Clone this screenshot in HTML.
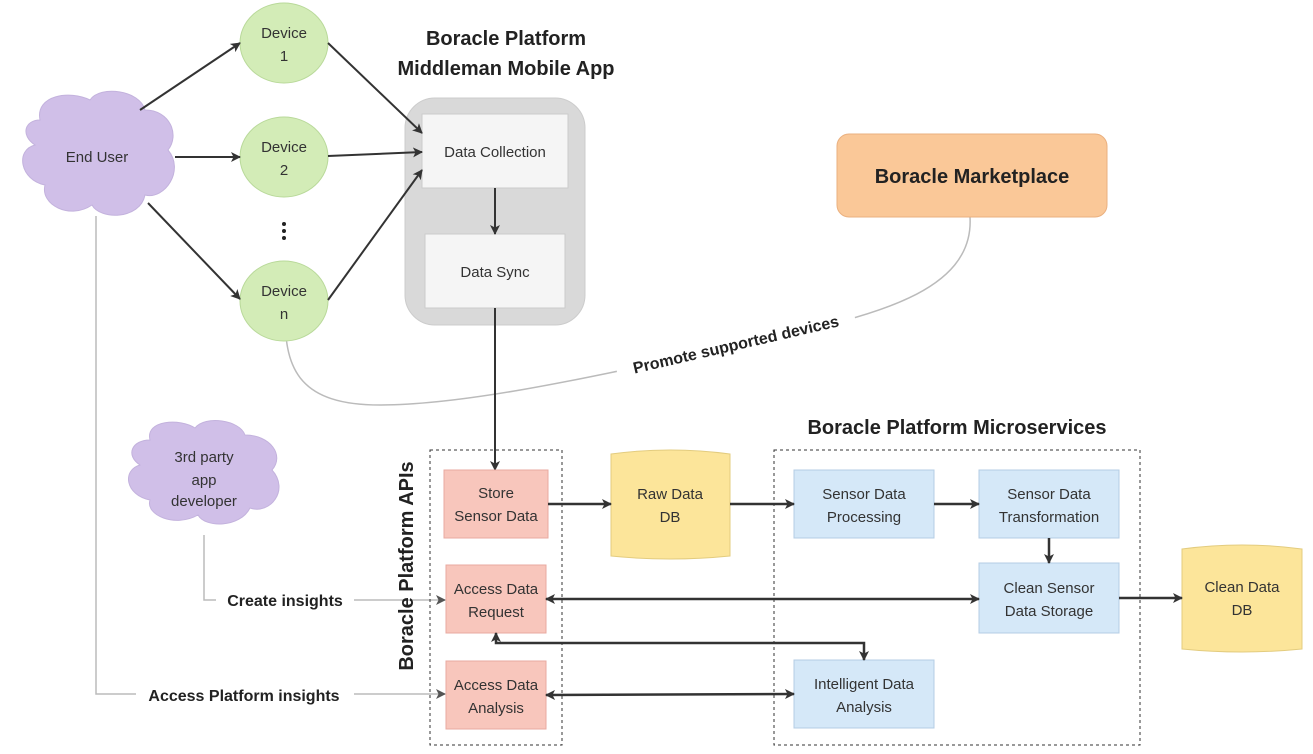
<!DOCTYPE html>
<html><head><meta charset="utf-8"><style>
body{margin:0;background:#fff}
svg{display:block;font-family:"Liberation Sans",sans-serif}
.t{font-size:15px;fill:#333;text-anchor:middle}
.b{font-weight:bold;fill:#222;text-anchor:middle}
</style></head><body>
<svg width="1313" height="754" viewBox="0 0 1313 754">
<defs>
<marker id="a" markerWidth="10" markerHeight="10" refX="9" refY="5" orient="auto-start-reverse" markerUnits="userSpaceOnUse"><path d="M0,0 L10,5 L0,10 L2.5,5z" fill="#333"/></marker>
<marker id="g" markerWidth="10" markerHeight="10" refX="9" refY="5" orient="auto-start-reverse" markerUnits="userSpaceOnUse"><path d="M0,0 L10,5 L0,10 L2.5,5z" fill="#555"/></marker>
</defs>
<g fill="none" stroke="#bbb" stroke-width="1.5">
<path d="M96,216 V694 H445" marker-end="url(#g)"/>
<path d="M204,535 V600 H445" marker-end="url(#g)"/>
<path d="M970,217 C975,300 850,320 740,345 C600,375 470,405 380,405 C300,405 285,370 285,315" marker-end="url(#g)"/>
</g>
<rect x="136" y="686" width="218" height="20" fill="#fff"/>
<text x="244" y="701" class="b" font-size="16">Access Platform insights</text>
<rect x="216" y="590" width="138" height="20" fill="#fff"/>
<text x="285" y="606" class="b" font-size="16">Create insights</text>
<g transform="translate(736,345) rotate(-13)"><rect x="-122" y="-13" width="244" height="24" fill="#fff"/><text x="0" y="5" class="b" font-size="16">Promote supported devices</text></g>
<g fill="#d0bfe8" stroke="#c3b2dd">
<path d="M40,120 C35,95 70,90 90,100 C100,85 140,90 145,110 C170,110 180,135 168,150 C185,170 165,200 145,195 C140,220 100,220 92,205 C70,220 40,205 45,185 C20,180 15,150 35,145 C20,135 25,120 40,120Z"/>
<path d="M150,440 C145,420 180,418 195,428 C205,415 240,420 245,435 C270,435 285,455 272,470 C290,490 270,515 250,508 C240,528 205,528 198,515 C175,528 145,515 150,500 C125,495 122,470 140,465 C125,455 132,440 150,440Z"/>
</g>
<text x="97" y="162" class="t">End User</text>
<text x="204" y="462" class="t">3rd party</text><text x="204" y="485" class="t">app</text><text x="204" y="506" class="t">developer</text>
<g fill="#d3ecb7" stroke="#b9d99a">
<ellipse cx="284" cy="43" rx="44" ry="40"/><ellipse cx="284" cy="157" rx="44" ry="40"/><ellipse cx="284" cy="301" rx="44" ry="40"/>
</g>
<text x="284" y="38" class="t">Device</text><text x="284" y="61" class="t">1</text>
<text x="284" y="152" class="t">Device</text><text x="284" y="175" class="t">2</text>
<text x="284" y="296" class="t">Device</text><text x="284" y="319" class="t">n</text>
<g fill="#222"><circle cx="284" cy="224" r="2"/><circle cx="284" cy="231" r="2"/><circle cx="284" cy="238" r="2"/></g>
<text x="506" y="45" class="b" font-size="20">Boracle Platform</text>
<text x="506" y="75" class="b" font-size="20">Middleman Mobile App</text>
<rect x="405" y="98" width="180" height="227" rx="30" fill="#d9d9d9" stroke="#ccc"/>
<rect x="422" y="114" width="146" height="74" fill="#f5f5f5" stroke="#ccc"/>
<rect x="425" y="234" width="140" height="74" fill="#f5f5f5" stroke="#ccc"/>
<text x="495" y="157" class="t">Data Collection</text>
<text x="495" y="277" class="t">Data Sync</text>
<g stroke="#333" stroke-width="2" fill="none">
<line x1="140" y1="110" x2="240" y2="43" marker-end="url(#a)"/>
<line x1="175" y1="157" x2="240" y2="157" marker-end="url(#a)"/>
<line x1="148" y1="203" x2="240" y2="299" marker-end="url(#a)"/>
<line x1="328" y1="43" x2="422" y2="133" marker-end="url(#a)"/>
<line x1="328" y1="156" x2="422" y2="152" marker-end="url(#a)"/>
<line x1="328" y1="300" x2="422" y2="170" marker-end="url(#a)"/>
<line x1="495" y1="188" x2="495" y2="234" marker-end="url(#a)"/>
<line x1="495" y1="308" x2="495" y2="470" marker-end="url(#a)"/>
</g>
<rect x="837" y="134" width="270" height="83" rx="12" fill="#fac898" stroke="#eab07f"/>
<text x="972" y="183" class="b" font-size="20">Boracle Marketplace</text>
<rect x="430" y="450" width="132" height="295" fill="none" stroke="#333" stroke-dasharray="3,3"/>
<text transform="translate(413,566) rotate(-90)" class="b" font-size="20" x="0" y="0">Boracle Platform APIs</text>
<g fill="#f8c6bc" stroke="#e8aaa0">
<rect x="444" y="470" width="104" height="68"/><rect x="446" y="565" width="100" height="68"/><rect x="446" y="661" width="100" height="68"/>
</g>
<text x="496" y="498" class="t">Store</text><text x="496" y="521" class="t">Sensor Data</text>
<text x="496" y="594" class="t">Access Data</text><text x="496" y="617" class="t">Request</text>
<text x="496" y="690" class="t">Access Data</text><text x="496" y="713" class="t">Analysis</text>
<g fill="#fce59a" stroke="#e3cc7f">
<path d="M611,454 Q670,446 730,454 V556 Q670,562 611,556Z"/>
<path d="M1182,549 Q1242,541 1302,549 V649 Q1242,655 1182,649Z"/>
</g>
<text x="670" y="499" class="t">Raw Data</text><text x="670" y="522" class="t">DB</text>
<text x="1242" y="592" class="t">Clean Data</text><text x="1242" y="615" class="t">DB</text>
<text x="957" y="434" class="b" font-size="20">Boracle Platform Microservices</text>
<rect x="774" y="450" width="366" height="295" fill="none" stroke="#333" stroke-dasharray="3,3"/>
<g fill="#d5e8f8" stroke="#b4cde4">
<rect x="794" y="470" width="140" height="68"/><rect x="979" y="470" width="140" height="68"/>
<rect x="979" y="563" width="140" height="70"/><rect x="794" y="660" width="140" height="68"/>
</g>
<text x="864" y="499" class="t">Sensor Data</text><text x="864" y="522" class="t">Processing</text>
<text x="1049" y="499" class="t">Sensor Data</text><text x="1049" y="522" class="t">Transformation</text>
<text x="1049" y="593" class="t">Clean Sensor</text><text x="1049" y="616" class="t">Data Storage</text>
<text x="864" y="689" class="t">Intelligent Data</text><text x="864" y="712" class="t">Analysis</text>
<g stroke="#333" stroke-width="2.5" fill="none">
<line x1="548" y1="504" x2="611" y2="504" marker-end="url(#a)"/>
<line x1="730" y1="504" x2="794" y2="504" marker-end="url(#a)"/>
<line x1="934" y1="504" x2="979" y2="504" marker-end="url(#a)"/>
<line x1="1049" y1="538" x2="1049" y2="563" marker-end="url(#a)"/>
<line x1="1119" y1="598" x2="1182" y2="598" marker-end="url(#a)"/>
<line x1="546" y1="599" x2="979" y2="599" marker-start="url(#a)" marker-end="url(#a)"/>
<path d="M496,633 V643 H864 V660" marker-start="url(#a)" marker-end="url(#a)"/>
<line x1="546" y1="695" x2="794" y2="694" marker-start="url(#a)" marker-end="url(#a)"/>
</g>
</svg>
</body></html>
